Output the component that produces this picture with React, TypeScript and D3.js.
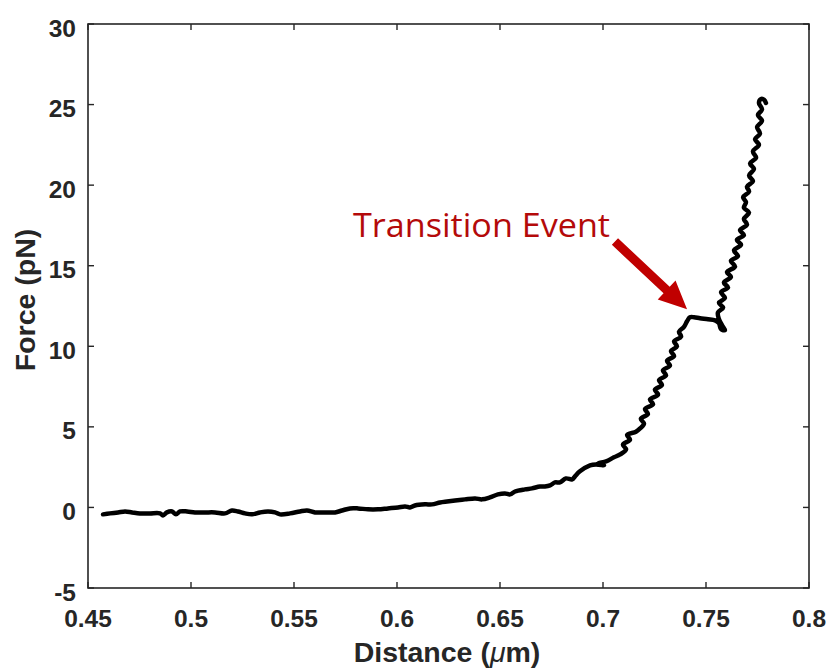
import React from "react";
import * as d3 from "d3";

const distance: number[] = [
  0.4573, 0.4607, 0.4646, 0.468, 0.4714, 0.4752, 0.4801, 0.485, 0.4864, 0.4883,
  0.4908, 0.4927, 0.4947, 0.4981, 0.5019, 0.5068, 0.5117, 0.5165, 0.5199, 0.5228,
  0.5262, 0.5296, 0.5335, 0.5374, 0.5408, 0.5432, 0.5481, 0.5529, 0.5563, 0.5602,
  0.565, 0.5699, 0.5733, 0.5772, 0.5811, 0.5859, 0.5908, 0.5956, 0.6005, 0.6039,
  0.6063, 0.6087, 0.6136, 0.617, 0.6209, 0.6243, 0.6282, 0.633, 0.6379, 0.6413,
  0.6451, 0.649, 0.6524, 0.6549, 0.6573, 0.6621, 0.6655, 0.6694, 0.6718, 0.6743,
  0.6767, 0.6791, 0.682, 0.685, 0.6864, 0.6888, 0.6937, 0.6966, 0.7005, 0.6976,
  0.7015, 0.7053,
  0.7083, 0.7112, 0.7097, 0.7131, 0.7117, 0.716, 0.718, 0.7199, 0.7184, 0.7218,
  0.7204, 0.7243, 0.7228, 0.7267, 0.7252, 0.7286, 0.7272, 0.7306, 0.7291, 0.7325,
  0.7311, 0.7345, 0.733, 0.7359, 0.7345, 0.7379, 0.7369, 0.7393, 0.7408, 0.7422,
  0.7442,
  0.7471, 0.751, 0.7544, 0.7563, 0.7573, 0.7592, 0.7578, 0.7563,
  0.7558, 0.7583, 0.7563, 0.7592, 0.7573, 0.7607, 0.7587, 0.7621, 0.7602, 0.7641,
  0.7621, 0.7655, 0.7636, 0.767, 0.765, 0.7684, 0.7665, 0.7699, 0.7684, 0.7709,
  0.7684, 0.7694, 0.768, 0.7709, 0.7699, 0.7728, 0.7709, 0.7733, 0.7714, 0.7743,
  0.7728, 0.7757, 0.7738, 0.7762, 0.7748, 0.7772, 0.7752, 0.7772, 0.7757, 0.7767,
  0.7782, 0.7791,
];

const force: number[] = [
  -0.43, -0.37, -0.31, -0.25, -0.31, -0.37, -0.37, -0.37, -0.5, -0.31,
  -0.25, -0.43, -0.25, -0.25, -0.31, -0.31, -0.31, -0.37, -0.19, -0.25,
  -0.37, -0.43, -0.31, -0.25, -0.31, -0.43, -0.37, -0.25, -0.19, -0.31,
  -0.31, -0.31, -0.19, -0.06, -0.06, -0.12, -0.12, -0.06, 0.0, 0.06,
  0.0, 0.12, 0.19, 0.19, 0.31, 0.37, 0.43, 0.5, 0.56, 0.5,
  0.62, 0.81, 0.87, 0.81, 0.99, 1.12, 1.18, 1.3, 1.3, 1.37,
  1.55, 1.55, 1.8, 1.74, 1.93, 2.24, 2.61, 2.67, 2.61, 2.73,
  2.86, 3.11,
  3.29, 3.6, 3.9, 4.2, 4.5, 4.7, 4.9, 5.2, 5.5, 5.8,
  6.1, 6.4, 6.7, 7.0, 7.3, 7.6, 7.9, 8.2, 8.5, 8.8,
  9.1, 9.4, 9.7, 10.0, 10.3, 10.6, 10.9, 11.2, 11.55, 11.8,
  11.8,
  11.74, 11.68, 11.61, 11.43, 11.06, 11.0, 11.3, 11.68,
  12.1, 12.4, 12.7, 13.0, 13.35, 13.65, 13.95, 14.3, 14.6, 14.95,
  15.3, 15.6, 15.95, 16.3, 16.6, 16.9, 17.2, 17.55, 17.9, 18.3,
  18.6, 18.95, 19.25, 19.6, 19.9, 20.25, 20.6, 21.0, 21.35, 21.7,
  22.1, 22.5, 22.85, 23.2, 23.6, 24.0, 24.35, 24.7, 25.1, 25.35,
  25.3, 25.1,
];

const xTicks: number[] = [0.45, 0.5, 0.55, 0.6, 0.65, 0.7, 0.75, 0.8];
const xTickLabels: string[] = ["0.45", "0.5", "0.55", "0.6", "0.65", "0.7", "0.75", "0.8"];
const yTicks: number[] = [-5, 0, 5, 10, 15, 20, 25, 30];
const yTickLabels: string[] = ["-5", "0", "5", "10", "15", "20", "25", "30"];

const annotationText = "Transition Event";
const arrowStart: [number, number] = [0.7058, 16.5];
const arrowTip: [number, number] = [0.7408, 12.3];
const textAnchorPt: [number, number] = [0.7034, 16.8];

export default function App() {
  const W = 830;
  const H = 671;
  const left = 88, right = 809, top = 24, bottom = 588;
  const x = d3.scaleLinear().domain([0.45, 0.8]).range([left, right]);
  const y = d3.scaleLinear().domain([-5, 30]).range([bottom, top]);
  const axisColor = "#262626";
  const tickLen = 6;

  const pts: [number, number][] = distance.map((d, i) => [d, force[i]]);
  const line = d3
    .line<[number, number]>()
    .x((d) => x(d[0]))
    .y((d) => y(d[1]))
    .curve(d3.curveCatmullRom.alpha(0.5));

  const sx = x(arrowStart[0]), sy = y(arrowStart[1]);
  const tx = x(arrowTip[0]), ty = y(arrowTip[1]);
  const ang = Math.atan2(ty - sy, tx - sx);
  const len = Math.hypot(tx - sx, ty - sy);
  const headLen = 28, headW = 13, shaftW = 4.5;
  const ux = Math.cos(ang), uy = Math.sin(ang);
  const nx = -uy, ny = ux;
  const bx = sx + ux * (len - headLen), by = sy + uy * (len - headLen);
  const arrowPoly = [
    [sx + nx * shaftW, sy + ny * shaftW],
    [bx + nx * shaftW, by + ny * shaftW],
    [bx + nx * headW, by + ny * headW],
    [tx, ty],
    [bx - nx * headW, by - ny * headW],
    [bx - nx * shaftW, by - ny * shaftW],
    [sx - nx * shaftW, sy - ny * shaftW],
  ]
    .map((p) => p.join(","))
    .join(" ");

  const tickFont = "Arial, 'Liberation Sans', Helvetica, sans-serif";

  return (
    <svg
      width={W}
      height={H}
      style={{ position: "absolute", left: 0, top: 0, display: "block", background: "#fff" }}
    >
      <rect x={0} y={0} width={W} height={H} fill="#fff" />
      <path
        d={line(pts) || ""}
        fill="none"
        stroke="#000"
        strokeWidth={4.5}
        strokeLinejoin="round"
        strokeLinecap="round"
      />
      <rect
        x={left}
        y={top}
        width={right - left}
        height={bottom - top}
        fill="none"
        stroke={axisColor}
        strokeWidth={1.6}
      />
      {xTicks.map((t, i) => (
        <g key={"xt" + i}>
          <line x1={x(t)} x2={x(t)} y1={bottom} y2={bottom - tickLen} stroke={axisColor} strokeWidth={1.4} />
          <line x1={x(t)} x2={x(t)} y1={top} y2={top + tickLen} stroke={axisColor} strokeWidth={1.4} />
          <text
            x={x(t)}
            y={bottom + 39}
            textAnchor="middle"
            fontFamily={tickFont}
            fontWeight="bold"
            fontSize={24.5}
            fill={axisColor}
          >
            {xTickLabels[i]}
          </text>
        </g>
      ))}
      {yTicks.map((t, i) => (
        <g key={"yt" + i}>
          <line x1={left} x2={left + tickLen} y1={y(t)} y2={y(t)} stroke={axisColor} strokeWidth={1.4} />
          <line x1={right} x2={right - tickLen} y1={y(t)} y2={y(t)} stroke={axisColor} strokeWidth={1.4} />
          <text
            x={76}
            y={y(t) + 12.5}
            textAnchor="end"
            fontFamily={tickFont}
            fontWeight="bold"
            fontSize={24.5}
            fill={axisColor}
          >
            {yTickLabels[i]}
          </text>
        </g>
      ))}
      <text
        x={447}
        y={662}
        textAnchor="middle"
        fontFamily={tickFont}
        fontWeight="bold"
        fontSize={28.5}
        fill={axisColor}
      >
        Distance (<tspan fontStyle="italic" fontWeight="normal">μ</tspan>m)
      </text>
      <text
        transform={`translate(35,300) rotate(-90)`}
        textAnchor="middle"
        fontFamily={tickFont}
        fontWeight="bold"
        fontSize={28.5}
        fill={axisColor}
      >
        Force (pN)
      </text>
      <polygon points={arrowPoly} fill="#C00000" />
      <text
        x={x(textAnchorPt[0])}
        y={y(textAnchorPt[1])}
        textAnchor="end"
        fontFamily="'Open Sans', 'Noto Sans', sans-serif"
        fontSize={32}
        fill="#B40A0A"
        textLength={257}
        lengthAdjust="spacingAndGlyphs"
      >
        {annotationText}
      </text>
    </svg>
  );
}
